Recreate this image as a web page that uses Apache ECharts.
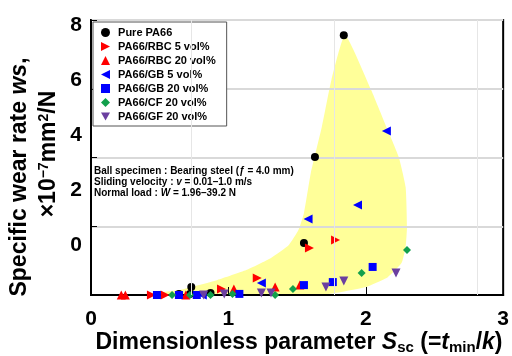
<!DOCTYPE html>
<html>
<head>
<meta charset="utf-8">
<script src="https://cdn.jsdelivr.net/npm/echarts@6/dist/echarts.min.js"></script>
<style>
  html, body { margin: 0; padding: 0; background: #fff; }
  #chart { width: 512px; height: 356px; }
</style>
</head>
<body>
<div id="chart"></div>
<script>
// Axis tick labels
const xTicks = [0, 1, 2, 3];
const yTicks = [0, 2, 4, 6, 8];

// Series names
const seriesNames = [
  'Pure PA66',
  'PA66/RBC 5 vol%',
  'PA66/RBC 20 vol%',
  'PA66/GB 5 vol%',
  'PA66/GB 20 vol%',
  'PA66/CF 20 vol%',
  'PA66/GF 20 vol%'
];

// Measurements: [Ssc, ws]
const purePA66 = [[1.84, 7.45], [1.63, 3.02], [1.55, -0.11], [0.73, -1.71], [0.64, -1.96], [0.72, -1.96], [0.87, -1.93]];
const rbc5 = [[1.78, 0.0], [1.59, -0.29], [1.21, -1.38], [0.95, -1.78], [0.44, -2.0], [0.54, -2.0]];
const rbc20 = [[0.22, -2.0], [0.25, -2.0], [0.69, -2.0], [1.04, -1.78], [1.34, -1.71], [1.52, -1.64]];
const gb5 = [[2.15, 3.96], [1.94, 1.27], [1.58, 0.76], [1.24, -1.56], [0.81, -2.0]];
const gb20 = [[2.05, -0.98], [1.76, -1.53], [1.55, -1.64], [1.08, -1.96], [0.48, -2.0], [0.64, -2.0], [0.77, -2.0]];
const cf20 = [[2.30, -0.36], [1.97, -1.2], [1.47, -1.78], [1.34, -2.0], [1.03, -1.96], [0.87, -2.0], [0.72, -2.0], [0.59, -2.0]];
const gf20 = [[2.22, -1.2], [1.84, -1.49], [1.71, -1.71], [1.24, -1.93], [1.31, -1.93], [0.97, -1.96], [0.82, -2.0]];

// Outline of the shaded band enclosing the data
const bandX = [0.35, 1.15, 1.73, 2.00, 2.16, 2.26, 2.29, 2.30, 2.29, 2.24, 2.16, 2.04, 1.85, 1.75, 1.68, 1.60, 1.55, 1.51, 1.44, 1.31, 1.13, 0.92, 0.64];
const bandY = [-2.0, -2.0, -1.96, -1.71, -1.35, -0.84, -0.25, 0.47, 1.93, 3.02, 4.0, 5.45, 7.45, 5.82, 4.11, 2.44, 0.98, 0.36, -0.18, -0.65, -1.09, -1.45, -1.82];

const FONT = '"Liberation Sans", Arial, sans-serif';

const chart = echarts.init(document.getElementById('chart'), null, { renderer: 'canvas' });

function scatter(name, data, symbol, size, color) {
  return {
    name: name,
    type: 'scatter',
    data: data,
    symbol: symbol,
    symbolSize: size,
    itemStyle: { color: color, opacity: 1 },
    z: 3,
    clip: false
  };
}

const option = {
  animation: false,
  backgroundColor: '#fff',
  grid: {
    left: 91, right: 6, top: 20, bottom: 61,
    show: true, borderColor: '#000', borderWidth: 2, backgroundColor: 'transparent'
  },
  xAxis: [{
    type: 'value', min: xTicks[0], max: xTicks[xTicks.length - 1], interval: 1,
    axisLine: { show: true, onZero: false, lineStyle: { color: '#000', width: 2 } },
    axisTick: { show: true, inside: true, length: 8, lineStyle: { color: '#000', width: 1 } },
    splitLine: { show: false },
    axisLabel: { color: '#000', fontFamily: FONT, fontWeight: 'bold', fontSize: 21, margin: 14 }
  }],
  yAxis: [{
    type: 'value', min: -2, max: yTicks[yTicks.length - 1], interval: 2,
    axisLine: { show: true, onZero: false, lineStyle: { color: '#000', width: 2 } },
    axisTick: { show: false },
    splitLine: { show: false },
    axisLabel: {
      color: '#000', margin: 9,
      formatter: v => (yTicks.indexOf(v) >= 0 ? '{v|' + v + '}' : ''),
      rich: {
        v: { fontFamily: FONT, fontWeight: 'bold', fontSize: 21, color: '#000', padding: [10, 0, 0, 0] }
      }
    }
  }, {
    type: 'value', min: 0, max: 4, interval: 1, position: 'left',
    axisLine: { show: false },
    axisTick: { show: true, inside: true, length: 6, lineStyle: { color: '#000', width: 1 } },
    splitLine: { show: true, lineStyle: { color: '#d9d9d9', width: 2 } },
    axisLabel: { show: false }
  }],
  legend: {
    orient: 'vertical',
    left: 93, top: 22,
    itemWidth: 9, itemHeight: 9, itemGap: 3,
    padding: [5, 11, 4, 8],
    backgroundColor: '#fff',
    borderColor: '#555', borderWidth: 1,
    formatter: n => ' ' + n,
    textStyle: { color: '#000', fontFamily: FONT, fontWeight: 'bold', fontSize: 11 },
    data: seriesNames
  },
  graphic: [
    {
      type: 'text', left: 94, top: 166, z: 10,
      style: {
        text: '{a|Ball specimen : Bearing steel (}{i|ƒ}{a| = 4.0 mm)}\n{a|Sliding velocity : }{i|v}{a| = 0.01–1.0 m/s}\n{a|Normal load : }{i|W}{a| = 1.96–39.2 N}',
        rich: {
          a: { fontFamily: FONT, fontWeight: 'bold', fontSize: 10, lineHeight: 11, fill: '#000' },
          i: { fontFamily: FONT, fontWeight: 'bold', fontStyle: 'italic', fontSize: 10, lineHeight: 11, fill: '#000' }
        }
      }
    },
    {
      type: 'text', x: 20, y: 177, rotation: Math.PI / 2, z: 10,
      style: {
        text: '{a|Specific wear rate }{i|ws}{a|,}',
        align: 'center', verticalAlign: 'middle',
        rich: {
          a: { fontFamily: FONT, fontWeight: 'bold', fontSize: 23, fill: '#000' },
          i: { fontFamily: FONT, fontWeight: 'bold', fontStyle: 'italic', fontSize: 23, fill: '#000' }
        }
      }
    },
    {
      type: 'text', x: 49, y: 154, rotation: Math.PI / 2, z: 10,
      style: {
        text: '{a|×10}{s|−7}{a|mm}{s|2}{a|/N}',
        align: 'center', verticalAlign: 'middle',
        rich: {
          a: { fontFamily: FONT, fontWeight: 'bold', fontSize: 23, fill: '#000' },
          s: { fontFamily: FONT, fontWeight: 'bold', fontSize: 14, fill: '#000', verticalAlign: 'top', padding: [0, 0, 10, 0] }
        }
      }
    },
    {
      type: 'text', x: 299, y: 343, z: 10,
      style: {
        text: '{a|Dimensionless parameter }{i|S}{b|sc}{a| (=}{i|t}{b|min}{a|/}{i|k}{a|)}',
        align: 'center', verticalAlign: 'middle',
        rich: {
          a: { fontFamily: FONT, fontWeight: 'bold', fontSize: 23, fill: '#000' },
          i: { fontFamily: FONT, fontWeight: 'bold', fontStyle: 'italic', fontSize: 23, fill: '#000' },
          b: { fontFamily: FONT, fontWeight: 'bold', fontSize: 15, fill: '#000', padding: [9, 0, 0, 0] }
        }
      }
    }
  ],
  series: [
    {
      type: 'custom',
      name: 'band',
      z: -1,
      silent: true,
      clip: true,
      data: [[0, 0]],
      renderItem: function (params, api) {
        const pts = bandX.map((x, i) => api.coord([x, bandY[i]]));
        return {
          type: 'polygon',
          shape: { points: pts, smooth: 0.15 },
          style: { fill: '#ffff99', stroke: null }
        };
      }
    },
    {
      type: 'scatter', name: 'vgrid', data: [], z: 1, silent: true,
      markLine: {
        silent: true, symbol: 'none', label: { show: false },
        lineStyle: { color: '#e6e6e6', width: 1, type: 'solid' },
        data: [{ xAxis: 0.73 }, { xAxis: 1.77 }, { xAxis: 2.81 }]
      }
    },
    scatter(seriesNames[0], purePA66, 'circle', 8, '#000000'),
    scatter(seriesNames[1], rbc5, 'path://M0,0L10,5L0,10Z', 9, '#ff0000'),
    scatter(seriesNames[2], rbc20, 'triangle', 9, '#ff0000'),
    scatter(seriesNames[3], gb5, 'path://M10,0L0,5L10,10Z', 9, '#0000ff'),
    scatter(seriesNames[4], gb20, 'rect', 8, '#0000ff'),
    scatter(seriesNames[5], cf20, 'diamond', 8, '#12a04c'),
    scatter(seriesNames[6], gf20, 'path://M0,0L10,0L5,9Z', 9, '#6b3fa0')
  ]
};

chart.setOption(option);
</script>
</body>
</html>
